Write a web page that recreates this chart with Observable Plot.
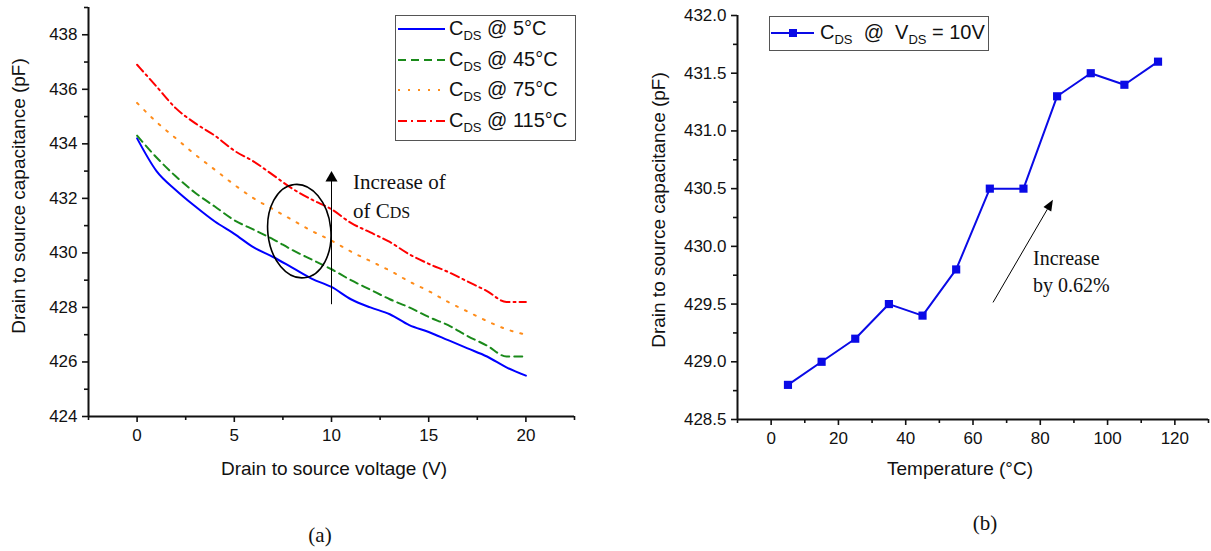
<!DOCTYPE html>
<html><head><meta charset="utf-8">
<script src="https://cdn.jsdelivr.net/npm/d3@7"></script>
<script src="https://cdn.jsdelivr.net/npm/@observablehq/plot@0.6"></script>
<style>
html,body{margin:0;padding:0;background:#fff;}
#wrap{position:relative;width:1211px;height:551px;overflow:hidden;font-family:"Liberation Sans",Arial,sans-serif;color:#111;}
.abs{position:absolute;white-space:nowrap;line-height:1;}
.ctr{transform:translate(-50%,-50%);}
.rot{transform:translate(-50%,-50%) rotate(-90deg);}
.serif{font-family:"Liberation Serif","Times New Roman",serif;}
sub{font-size:13px;vertical-align:-5px;line-height:0;}
.legbox{position:absolute;border:1.5px solid #555;background:#fff;box-sizing:border-box;}
</style></head>
<body><div id="wrap"></div>
<script>
// ---------- data (a) ----------
const voltage = [0,1,2,3,4,5,6,7,8,9,10,11,12,13,14,15,16,17,18,19,20];
const c5   = [434.2,433.0,432.3,431.7,431.15,430.7,430.2,429.85,429.45,429.05,428.75,428.3,428.0,427.75,427.35,427.1,426.8,426.5,426.2,425.8,425.5];
const c45  = [434.3,433.5,432.8,432.2,431.7,431.2,430.85,430.5,430.1,429.75,429.4,429.0,428.65,428.3,428.0,427.65,427.35,426.95,426.6,426.2,426.2];
const c75  = [435.5,434.8,434.2,433.6,433.05,432.5,432.0,431.6,431.2,430.8,430.45,430.05,429.7,429.35,428.95,428.6,428.2,427.85,427.5,427.2,427.0];
const c115 = [436.9,436.1,435.3,434.75,434.3,433.75,433.35,432.85,432.35,431.95,431.6,431.1,430.75,430.4,429.95,429.6,429.3,428.95,428.6,428.2,428.2];
const seriesNames = ["5°C","45°C","75°C","115°C"];
const xTicksA = [0,5,10,15,20];
const yTicksA = [424,426,428,430,432,434,436,438];

// ---------- data (b) ----------
const temperature = [5,15,25,35,45,55,65,75,85,95,105,115];
const cAt10V = [428.8,429.0,429.2,429.5,429.4,429.8,430.5,430.5,431.3,431.5,431.4,431.6];
const xTicksB = [0,20,40,60,80,100,120];
const yTicksB = [428.5,429.0,429.5,430.0,430.5,431.0,431.5,432.0];

// ---------- styles ----------
const seriesColors = ["#0000ff","#1a8a1a","#ff8c1a","#ff0000"];
const seriesDash = [null,"8,5","2,8","9,4,2,4"];
const seriesVals = [c5,c45,c75,c115];

const wrap = document.getElementById("wrap");
const axisFont = {fontSize:17, fill:"#111"};

// ---------- Plot (a) ----------
const rowsA = [];
seriesVals.forEach((vals,i)=>vals.forEach((v,j)=>rowsA.push({s:i,v:voltage[j],c:v})));

const ellipseMark = (index, scales) => {
  const cx = 8.37, cy = 430.78, ax = 1.62, ay = 1.72;
  const e = document.createElementNS("http://www.w3.org/2000/svg","ellipse");
  const px = scales.x(cx), py = scales.y(cy);
  e.setAttribute("cx", px);
  e.setAttribute("cy", py);
  e.setAttribute("rx", scales.x(cx+ax)-px);
  e.setAttribute("ry", py-scales.y(cy+ay));
  e.setAttribute("transform", `rotate(-6 ${px} ${py})`);
  e.setAttribute("fill","none");
  e.setAttribute("stroke","#000");
  e.setAttribute("stroke-width","1.6");
  return e;
};

const plotA = Plot.plot({
  width:600, height:551,
  marginLeft:88, marginRight:26, marginTop:7, marginBottom:135,
  x:{domain:[-2.5,22.5]},
  y:{domain:[424,439]},
  style:{fontFamily:'"Liberation Sans",Arial,sans-serif', background:"transparent"},
  marks:[
    ...seriesVals.map((vals,i)=>Plot.line(rowsA.filter(d=>d.s===i),{x:"v",y:"c",stroke:seriesColors[i],strokeWidth:2,strokeDasharray:seriesDash[i]||undefined, curve:"monotone-x"})),
    ellipseMark,
    Plot.ruleX([10],{y1:428.1,y2:432.8,stroke:"#000",strokeWidth:1}),
    Plot.dot([{x:10,y:432.75}],{x:"x",y:"y",symbol:"triangle",r:4.5,fill:"#000",stroke:null}),
    Plot.ruleY([424],{stroke:"#111",strokeWidth:2}),
    Plot.ruleX([-2.5],{stroke:"#111",strokeWidth:2}),
    Plot.axisX({ticks:xTicksA,tickSize:6,tickPadding:6,strokeWidth:1.6,...axisFont,label:null}),
    Plot.axisX({ticks:[-2.5,2.5,7.5,12.5,17.5,22.5],tickSize:4,strokeWidth:1.6,tickFormat:()=>"",label:null}),
    Plot.axisY({ticks:yTicksA,tickSize:6,tickPadding:5,strokeWidth:1.6,...axisFont,label:null}),
    Plot.axisY({ticks:[425,427,429,431,433,435,437,439],tickSize:4,strokeWidth:1.6,tickFormat:()=>"",label:null})
  ]
});
plotA.style.position="absolute"; plotA.style.left="0px"; plotA.style.top="0px";
wrap.appendChild(plotA);

// ---------- Plot (b) ----------
const rowsB = temperature.map((t,i)=>({t, c:cAt10V[i]}));
const arrowB = (index, scales) => {
  const x1=scales.x(66.1), y1=scales.y(429.51), x2=scales.x(83.9), y2=scales.y(430.4);
  const g = document.createElementNS("http://www.w3.org/2000/svg","g");
  const ang = Math.atan2(y2-y1,x2-x1), L=11, W=4.5;
  const bx = x2-L*Math.cos(ang), by = y2-L*Math.sin(ang);
  const ln = document.createElementNS("http://www.w3.org/2000/svg","line");
  ln.setAttribute("x1",x1);ln.setAttribute("y1",y1);ln.setAttribute("x2",bx);ln.setAttribute("y2",by);
  ln.setAttribute("stroke","#000");ln.setAttribute("stroke-width","1");
  const p = document.createElementNS("http://www.w3.org/2000/svg","polygon");
  const px = -Math.sin(ang), py = Math.cos(ang);
  p.setAttribute("points",`${x2},${y2} ${bx+W*px},${by+W*py} ${bx-W*px},${by-W*py}`);
  p.setAttribute("fill","#000");
  g.appendChild(ln); g.appendChild(p);
  return g;
};
const plotB = Plot.plot({
  width:611, height:551,
  marginLeft:137, marginRight:3, marginTop:15, marginBottom:132,
  x:{domain:[-10,130]},
  y:{domain:[428.5,432.0]},
  style:{fontFamily:'"Liberation Sans",Arial,sans-serif', background:"transparent"},
  marks:[
    Plot.line(rowsB,{x:"t",y:"c",stroke:"#0a0ae6",strokeWidth:2}),
    Plot.dot(rowsB,{x:"t",y:"c",symbol:"square",r:4.6,fill:"#0a0ae6",stroke:null}),
    arrowB,
    Plot.ruleY([428.5],{stroke:"#111",strokeWidth:2}),
    Plot.ruleX([-10],{stroke:"#111",strokeWidth:2}),
    Plot.axisX({ticks:xTicksB,tickSize:6,tickPadding:6,strokeWidth:1.6,...axisFont,label:null}),
    Plot.axisX({ticks:[-10,10,30,50,70,90,110,130],tickSize:4,strokeWidth:1.6,tickFormat:()=>"",label:null}),
    Plot.axisY({ticks:yTicksB,tickSize:6,tickPadding:5,strokeWidth:1.6,...axisFont,tickFormat:d=>d.toFixed(1),label:null}),
    Plot.axisY({ticks:[428.75,429.25,429.75,430.25,430.75,431.25,431.75],tickSize:4,strokeWidth:1.6,tickFormat:()=>"",label:null})
  ]
});
plotB.style.position="absolute"; plotB.style.left="600px"; plotB.style.top="0px";
wrap.appendChild(plotB);

// ---------- HTML text ----------
function addText(html, x, y, cls, size, extra){
  const d=document.createElement("div");
  d.className="abs "+cls; d.innerHTML=html;
  d.style.left=x+"px"; d.style.top=y+"px"; d.style.fontSize=size+"px";
  if(extra) Object.assign(d.style, extra);
  wrap.appendChild(d); return d;
}
addText("Drain to source capacitance (pF)",18,196,"rot",19);
addText("Drain to source voltage (V)",334,468,"ctr",19);
addText("Drain to source capacitance (pF)",658,210,"rot",19);
addText("Temperature (°C)",960,468,"ctr",19);
addText("(a)",320,535,"ctr serif",21);
addText("(b)",985,523,"ctr serif",21);
addText("Increase of",353,172,"serif",21);
addText("of C<span style='font-size:16px'>DS</span>",353,201,"serif",21);
addText("Increase",1033,248,"serif",20);
addText("by 0.62%",1033,275,"serif",20);

// legend (a)
const lb=document.createElement("div"); lb.className="legbox";
Object.assign(lb.style,{left:"395px",top:"15px",width:"181px",height:"126px"});
wrap.appendChild(lb);
seriesNames.forEach((n,i)=>{
  const cy = 29 + i*30.7;
  const s=document.createElementNS("http://www.w3.org/2000/svg","svg");
  s.setAttribute("width","48"); s.setAttribute("height","10");
  s.style.position="absolute"; s.style.left="398px"; s.style.top=(cy-5)+"px";
  s.innerHTML=`<line x1="0" y1="5" x2="47" y2="5" stroke="${seriesColors[i]}" stroke-width="2" ${seriesDash[i]?`stroke-dasharray="${seriesDash[i]}"`:""}/>`;
  wrap.appendChild(s);
  addText(`C<sub>DS</sub> @ ${n}`,449,cy-11,"",20);
});
// legend (b)
const lb2=document.createElement("div"); lb2.className="legbox";
Object.assign(lb2.style,{left:"769px",top:"16px",width:"220px",height:"35px"});
wrap.appendChild(lb2);
const s2=document.createElementNS("http://www.w3.org/2000/svg","svg");
s2.setAttribute("width","44"); s2.setAttribute("height","12");
s2.style.position="absolute"; s2.style.left="771px"; s2.style.top="27px";
s2.innerHTML=`<line x1="0" y1="6" x2="43" y2="6" stroke="#0a0ae6" stroke-width="2"/><rect x="18" y="2" width="8" height="8" fill="#0a0ae6"/>`;
wrap.appendChild(s2);
addText("C<sub>DS</sub>&nbsp; @&nbsp; V<sub>DS</sub> = 10V",820,22,"",20);
</script></body></html>
